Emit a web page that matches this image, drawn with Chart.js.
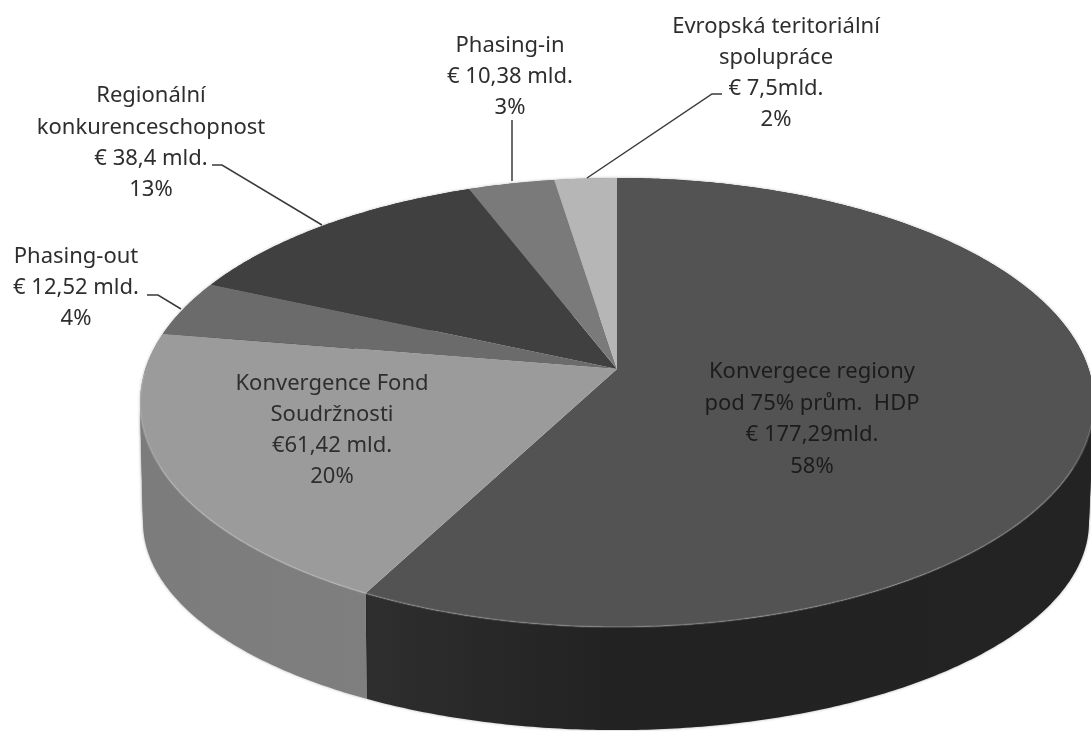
<!DOCTYPE html>
<html lang="cs">
<head>
<meta charset="utf-8">
<title>Fondy EU</title>
<script src="https://cdn.jsdelivr.net/npm/chart.js@4"></script>
<style>
  html, body { margin: 0; padding: 0; background: #fff; overflow: hidden; }
  canvas { display: block; }
</style>
</head>
<body>
<canvas id="fundsChart" width="1091" height="731"></canvas>
<script>
const categories = [
  "Konvergece regiony pod 75% prům. HDP",
  "Konvergence Fond Soudržnosti",
  "Phasing-out",
  "Regionální konkurenceschopnost",
  "Phasing-in",
  "Evropská teritoriální spolupráce"
];
const amounts = [177.29, 61.42, 12.52, 38.4, 10.38, 7.5];
const labelLines = [
  ["Konvergece regiony", "pod 75% prům.  HDP", "€ 177,29mld.", "58%"],
  ["Konvergence Fond", "Soudržnosti", "€61,42 mld.", "20%"],
  ["Phasing-out", "€ 12,52 mld.", "4%"],
  ["Regionální", "konkurenceschopnost", "€ 38,4 mld.", "13%"],
  ["Phasing-in", "€ 10,38 mld.", "3%"],
  ["Evropská teritoriální", "spolupráce", "€ 7,5mld.", "2%"]
];

const faceColors = ["#535353", "#9b9b9b", "#6b6b6b", "#404040", "#7a7a7a", "#b6b6b6"];
const wallStops = [
  [[0.0, "#232323"], [0.5, "#222222"], [0.72, "#2c2c2c"], [0.95, "#3c3c3c"]],
  [[0.0, "#666666"], [0.6, "#808080"], [1.0, "#7c7c7c"]],
  [[0, "#555555"]], [[0, "#333333"]], [[0, "#666666"]], [[0, "#999999"]]
];

// where each label block sits: centre x, first line y
const labelPos = [[812, 372], [332, 384], [76, 257], [151, 96], [510, 46], [776, 27]];
const lineGap = [31.5, 31, 31, 31.3, 31, 31];
const leaders = [
  null,
  null,
  [[147, 295], [158, 295], [181, 309]],
  [[212, 165], [222, 165], [322, 225]],
  [[512, 120], [512, 181]],
  [[722, 94], [712, 94], [587, 178]]
];

// perspective of the tilted disc, top face and bottom ring
const tilt = 0.1493;
const topRing = { x: 617, y: 369, a: 471.6, b: 219.5 };
const bottomRing = { x: 616, y: 491, a: 467.7, b: 203.4 };
const silhouetteAngles = [Math.asin(tilt), Math.PI - Math.asin(tilt)];

function project(ring, angle) {
  const u = Math.cos(angle), v = Math.sin(angle);
  const w = 1 - tilt * v;
  return [ring.x + ring.a * u / w, ring.y + ring.b * v / w];
}

function traceRim(ctx, ring, from, to) {
  const steps = Math.max(2, Math.ceil(Math.abs(to - from) / 0.01));
  for (let i = 0; i <= steps; i++) {
    const p = project(ring, from + (to - from) * i / steps);
    ctx.lineTo(p[0], p[1]);
  }
}

const tiltedPie = {
  id: "tiltedPie",
  beforeDatasetDraw(chart, args) {
    const ctx = chart.ctx;
    const arcs = args.meta.data;

    arcs.forEach((arc, i) => {
      const grad = ctx.createLinearGradient(1091, 0, 140, 0);
      wallStops[i].forEach(s => grad.addColorStop(s[0], s[1]));
      // cut the wall where the rim turns, so the outline stays closed there
      const cuts = silhouetteAngles.filter(a => a > arc.startAngle && a < arc.endAngle);
      const bounds = [arc.startAngle, ...cuts, arc.endAngle];
      const parts = bounds.slice(1).map((end, n) => [bounds[n], end]);
      // far part first, its shadow must not land on the near part
      parts.sort((p, q) => Math.sin((p[0] + p[1]) / 2) - Math.sin((q[0] + q[1]) / 2));
      ctx.save();
      ctx.shadowColor = "rgba(0,0,0,0.3)";
      ctx.shadowBlur = 3;
      ctx.fillStyle = grad;
      parts.forEach(p => {
        ctx.beginPath();
        traceRim(ctx, topRing, p[0], p[1]);
        traceRim(ctx, bottomRing, p[1], p[0]);
        ctx.closePath();
        ctx.fill();
      });
      ctx.restore();
    });

    arcs.forEach((arc, i) => {
      ctx.fillStyle = faceColors[i];
      ctx.beginPath();
      ctx.moveTo(topRing.x, topRing.y);
      traceRim(ctx, topRing, arc.startAngle, arc.endAngle);
      ctx.closePath();
      ctx.fill();
    });

    // thin bevel highlight along the near rim
    ctx.save();
    ctx.strokeStyle = "rgba(255,255,255,0.16)";
    ctx.lineWidth = 2;
    ctx.beginPath();
    traceRim(ctx, topRing, 0.15, Math.PI - 0.02);
    ctx.stroke();
    ctx.restore();

    return false;
  },
  afterDatasetsDraw(chart) {
    const ctx = chart.ctx;
    ctx.save();
    ctx.strokeStyle = "#3a3a3a";
    ctx.lineWidth = 1.5;
    leaders.forEach(pts => {
      if (!pts) return;
      ctx.beginPath();
      pts.forEach((p, i) => i ? ctx.lineTo(p[0], p[1]) : ctx.moveTo(p[0], p[1]));
      ctx.stroke();
    });

    ctx.font = '22px "Noto Sans"';
    ctx.textAlign = "center";
    ctx.textBaseline = "middle";
    labelLines.forEach((lines, i) => {
      ctx.fillStyle = i === 0 ? "#1c1c1c" : "#2e2e2e";
      lines.forEach((text, n) => {
        ctx.fillText(text, labelPos[i][0], labelPos[i][1] + n * lineGap[i]);
      });
    });
    ctx.restore();
  }
};

new Chart(document.getElementById("fundsChart"), {
  type: "pie",
  data: {
    labels: categories,
    datasets: [{ data: amounts, backgroundColor: faceColors, borderWidth: 0 }]
  },
  options: {
    responsive: false,
    animation: false,
    plugins: { legend: { display: false }, tooltip: { enabled: false } }
  },
  plugins: [tiltedPie]
});
</script>
</body>
</html>
